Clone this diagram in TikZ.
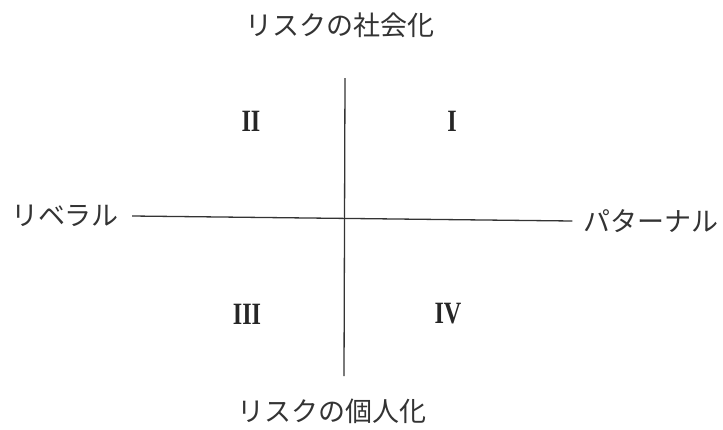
\documentclass[tikz,border=0pt]{standalone}
\usepackage{fontspec}
\newfontfamily\jp{Noto Sans CJK JP}
\newfontfamily\rmn{Liberation Serif}

\newcommand{\qnum}[1]{\scalebox{0.78}[1]{#1}}

\begin{document}
\begin{tikzpicture}[x=1pt,y=-1pt,
  jlabel/.style={font=\jp\fontsize{27}{30}\selectfont,text=black!80,inner sep=0pt},
  quad/.style={font=\rmn\bfseries\fontsize{31}{33}\selectfont,text=black!85,inner sep=0pt},
  axis/.style={line width=1.3pt,black!80}]
\useasboundingbox (0,0) rectangle (723,429);
\coordinate (vt) at (345,78);
\coordinate (vb) at (344,376);
\node[jlabel] (social) at (340,25) {リスクの社会化};
\node[jlabel] (indiv) at (332,411) {リスクの個人化};
\node[jlabel,inner xsep=13pt] (lib) at (65,216) {リベラル};
\node[jlabel,inner xsep=11pt] (pat) at (651,221) {パターナル};
% axes
\draw[axis] (lib.east) -- (pat.west);
\draw[axis] (vt) -- (vb);
% quadrants
\node[quad] (q1) at (452,121) {\qnum{I}};
\node[quad] (q2) at (251,121) {\qnum{II}};
\node[quad] (q3) at (247,314) {\qnum{III}};
\node[quad] (q4) at (448,314) {\qnum{IV}};
\end{tikzpicture}
\end{document}
